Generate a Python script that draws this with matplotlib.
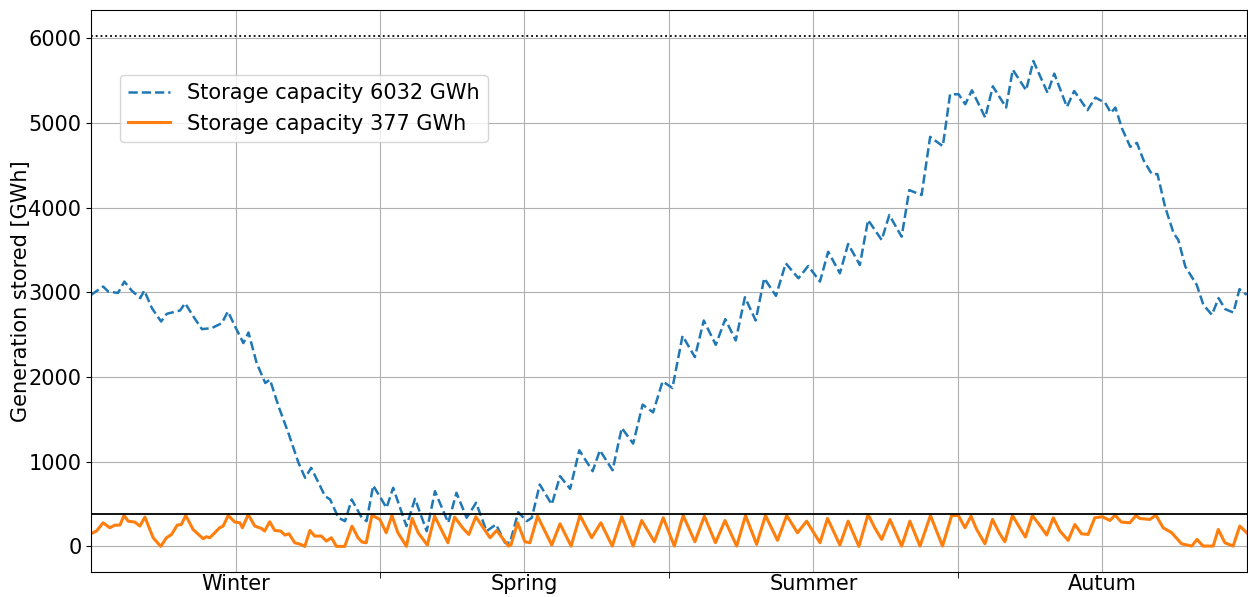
import numpy as np
import matplotlib
matplotlib.use('Agg')
import matplotlib.pyplot as plt

# day of year / stored energy [GWh]
day_large = [0, 3.8, 5.4, 8.5, 10.5, 12.8, 15.5, 16.8, 19.2, 22.1, 23.9, 28.1, 29.7, 32.3, 35, 38.1,
             41.3, 43.2, 46.0, 48.1, 49.7, 52.3, 55, 56.5, 59.2, 62.3, 65.5, 67.6, 69.5, 73.9, 75.5,
             78.1, 80.2, 82.3, 85.5, 87.0, 89.1, 93.3, 95.4, 99.6, 102.3, 106, 108.6, 112.8, 115.4,
             118.6, 121.6, 124.9, 127.9, 130.7, 132.3, 134.9, 137.6, 139.2, 141.7, 145.5, 148.1,
             151.3, 154.2, 158.4, 160.7, 164.7, 167.6, 171.2, 174.2, 177.5, 180.5, 183.6, 186.8,
             190.7, 193.5, 197.3, 200.3, 203.6, 206.5, 209.9, 212.6, 216.3, 219.4, 223.4, 226.5,
             230.2, 232.8, 236.5, 239.1, 242.8, 245.4, 249.7, 252.1, 256, 258.4, 262.3, 265, 269,
             271.3, 274, 276.1, 278.2, 282.4, 284.8, 289, 291.1, 295.3, 297.6, 302.1, 304.2, 308.2,
             310.5, 314.7, 317.2, 320.3, 322.1, 323.5, 325.6, 328.2, 330.3, 332.4, 335, 336.8,
             339.2, 341.9, 343.4, 345.6, 349.2, 351.3, 354, 356.1, 358.2, 360.8, 362.7, 365]
stored_large = [2971, 3069, 3010, 2994, 3128, 3022, 2932, 3022, 2814, 2656, 2747, 2786, 2872, 2715,
                2566, 2578, 2637, 2774, 2558, 2401, 2526, 2165, 1930, 1969, 1654, 1340, 987, 810,
                928, 593, 554, 338, 298, 554, 338, 298, 719, 456, 692, 239, 562, 180, 652, 279, 633,
                338, 515, 180, 259, 43, 43, 404, 298, 338, 731, 495, 829, 680, 1135, 888, 1135, 899,
                1399, 1214, 1674, 1583, 1949, 1871, 2487, 2236, 2668, 2381, 2684, 2432, 2943, 2668,
                3167, 2959, 3344, 3167, 3312, 3128, 3481, 3226, 3572, 3324, 3855, 3619, 3914, 3658,
                4208, 4150, 4837, 4727, 5340, 5340, 5222, 5387, 5065, 5434, 5183, 5631, 5387, 5733,
                5356, 5584, 5191, 5379, 5152, 5301, 5238, 5120, 5183, 4936, 4719, 4766, 4562, 4397,
                4397, 4012, 3698, 3619, 3304, 3089, 2853, 2735, 2932, 2802, 2762, 3038, 2971]

day_small = [0.1, 1.7, 3.8, 5.9, 7.5, 9.1, 10.4, 11.7, 13.8, 15.4, 17.0, 19.6, 22.0, 23.8, 25.4,
             27.2, 28.5, 29.9, 32.2, 35.4, 36.4, 37.5, 40.6, 41.7, 43.3, 45.4, 47, 47.8, 49.6, 51.7,
             53.8, 54.8, 56.4, 58, 59.9, 61.2, 62.5, 64.3, 66.2, 67.5, 69.1, 70.6, 72.7, 74.3, 75.9,
             77.5, 80.1, 82.4, 84.3, 85.6, 86.9, 88.7, 91.2, 93.2, 95, 96.9, 99.6, 101.4, 103.3,
             106.2, 108.5, 110.6, 112.7, 114.8, 117.5, 119.3, 121.5, 126, 128.1, 131.8, 132.6,
             134.7, 137, 138.6, 141, 145.5, 148.1, 151.6, 154.4, 158.1, 161, 164.6, 167.6, 171.2,
             173.9, 177.9, 180.7, 184.2, 187, 190.7, 193.7, 197.2, 200.2, 203.9, 206.7, 210.2, 213,
             216.8, 219.7, 223.1, 226, 230.2, 232.6, 236.5, 239.1, 242.5, 245.4, 247.5, 249.7,
             252.3, 256, 258.6, 261.8, 265.1, 268.9, 271.8, 273.9, 276, 277.9, 279.7, 282.3, 284.7,
             286.8, 288.6, 291, 293.3, 295.1, 297.3, 300.2, 301.8, 303.9, 306, 308.6, 310.7, 312.8,
             314.9, 317, 319.4, 321.8, 323.4, 325.4, 328.1, 330, 331.2, 334.4, 336.3, 338.6, 341.3,
             344.4, 347.6, 349.3, 351.2, 354.4, 356, 358.1, 360.7, 362.8, 365]
stored_small = [153, 181, 279, 220, 251, 251, 365, 298, 287, 240, 346, 102, 0, 102, 141, 251, 259,
                365, 200, 90, 114, 102, 220, 240, 365, 287, 279, 220, 377, 240, 212, 181, 291, 188,
                181, 134, 149, 43, 24, 0, 188, 122, 122, 63, 102, 0, 0, 240, 102, 51, 43, 369, 318,
                161, 365, 161, 0, 330, 161, 16, 357, 200, 43, 346, 212, 141, 350, 102, 188, 4, 16,
                279, 55, 43, 357, 16, 267, 4, 365, 102, 279, 4, 350, 4, 306, 55, 338, 4, 365, 55,
                357, 43, 306, 4, 365, 24, 365, 71, 365, 161, 298, 43, 330, 16, 298, 0, 377, 220, 82,
                318, 4, 298, 4, 365, 4, 365, 365, 220, 357, 200, 31, 318, 161, 55, 365, 220, 110,
                365, 220, 134, 338, 181, 71, 259, 149, 141, 338, 350, 306, 369, 287, 279, 365, 330,
                318, 369, 220, 161, 31, 4, 82, 4, 4, 200, 43, 4, 240, 161]

cap_large = 6032
cap_small = 377
season_pos = [365 / 8, 3 * 365 / 8, 5 * 365 / 8, 7 * 365 / 8]
season_names = ['Winter', 'Spring', 'Summer', 'Autum']
season_edges = [2 * 365 / 8, 4 * 365 / 8, 6 * 365 / 8]

fig = plt.figure(figsize=(12.48, 5.97), dpi=100)
ax = fig.add_axes([0.073, 0.042, 0.926, 0.941])

ax.plot(day_large, stored_large, '--', color='tab:blue', linewidth=1.8,
        label='Storage capacity %d GWh' % cap_large)
ax.plot(day_small, stored_small, '-', color='tab:orange', linewidth=2.2,
        label='Storage capacity %d GWh' % cap_small)
ax.axhline(cap_large, color='black', linestyle=':', linewidth=1.3)
ax.axhline(cap_small, color='black', linestyle='-', linewidth=1.3)

ax.set_xlim(0, 365)
ax.set_ylim(-0.05 * cap_large, 1.05 * cap_large)
ax.set_xticks(season_pos)
ax.set_xticklabels(season_names)
ax.set_xticks(season_edges, minor=True)
ax.tick_params(axis='x', which='major', length=0, pad=1.5)
ax.tick_params(axis='x', which='minor', length=4)
ax.tick_params(labelsize=15)
ax.grid(True, which='both', color='#b0b0b0', linewidth=0.8)
ax.set_ylabel('Generation stored [GWh]', fontsize=15, labelpad=-2)

ax.legend(loc='upper left', bbox_to_anchor=(0.025, 0.885), borderaxespad=0, fontsize=15)

fig.savefig('out.png', dpi=100)
